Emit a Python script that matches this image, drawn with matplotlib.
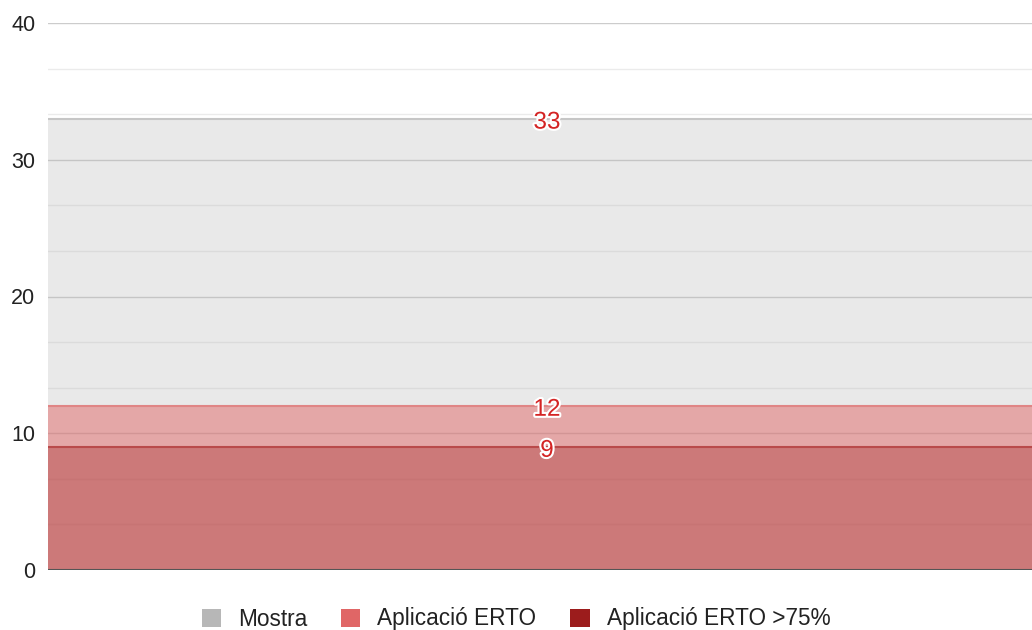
import numpy as np
import matplotlib.pyplot as plt
import matplotlib.patheffects as pe
from matplotlib.patches import Patch

# series (drawn back to front)
series_names = ['Mostra', 'Aplicació ERTO', 'Aplicació ERTO >75%']
series_values = [33, 12, 9]
legend_colors = ['#b7b7b7', '#e06666', '#9c1c1c']
fill_alphas = [0.30, 0.50, 0.33]
line_colors = ['#c6c6c6', '#e08585', '#b94a4a']

y_ticks = [0, 10, 20, 30, 40]

plt.rcParams['font.family'] = ['Liberation Sans', 'DejaVu Sans']

fig = plt.figure(figsize=(10.32, 6.3), dpi=100)
ax = fig.add_axes([48 / 1032, 60 / 630, 984 / 1032, 547 / 630])

x = np.array([0.0, 1.0])
for name, val, col, a, lc in zip(series_names, series_values, legend_colors,
                                 fill_alphas, line_colors):
    ax.fill_between(x, 0, [val, val], color=col, alpha=a, linewidth=0, zorder=2)
    ax.plot(x, [val, val], color=lc, linewidth=1.5, zorder=3)

for val in series_values:
    ax.annotate(str(val), xy=(0.5, val), xytext=(5, -1), textcoords='offset points',
                ha='center', va='center_baseline', fontsize=17.5, color='#d42424', zorder=5,
                path_effects=[pe.withStroke(linewidth=3, foreground='white')])

ax.set_xlim(0, 1)
ax.set_ylim(0, 40)
ax.set_yticks(y_ticks)
ax.set_yticks(np.arange(0, 40.01, 10 / 3), minor=True)
ax.grid(True, which='major', axis='y', color='#cccccc', linewidth=1, zorder=0)
ax.grid(True, which='minor', axis='y', color='#ebebeb', linewidth=1, zorder=0)
ax.set_axisbelow(True)
ax.set_xticks([])
ax.tick_params(axis='y', which='both', length=0, labelsize=15.5, pad=9, colors='#222222')
for s in ax.spines.values():
    s.set_visible(False)
ax.axhline(0, color='#555555', linewidth=1.5, zorder=4)

handles = [Patch(facecolor=c, edgecolor='none') for c in legend_colors]
fig.legend(handles, series_names, loc='center', bbox_to_anchor=(0.5, 1 - 619 / 630),
           ncol=3, frameon=False, fontsize=16.3, handlelength=0.85, handleheight=0.85,
           handletextpad=0.75, columnspacing=1.5, labelcolor='#222222')

fig.savefig('out.png', dpi=100)
